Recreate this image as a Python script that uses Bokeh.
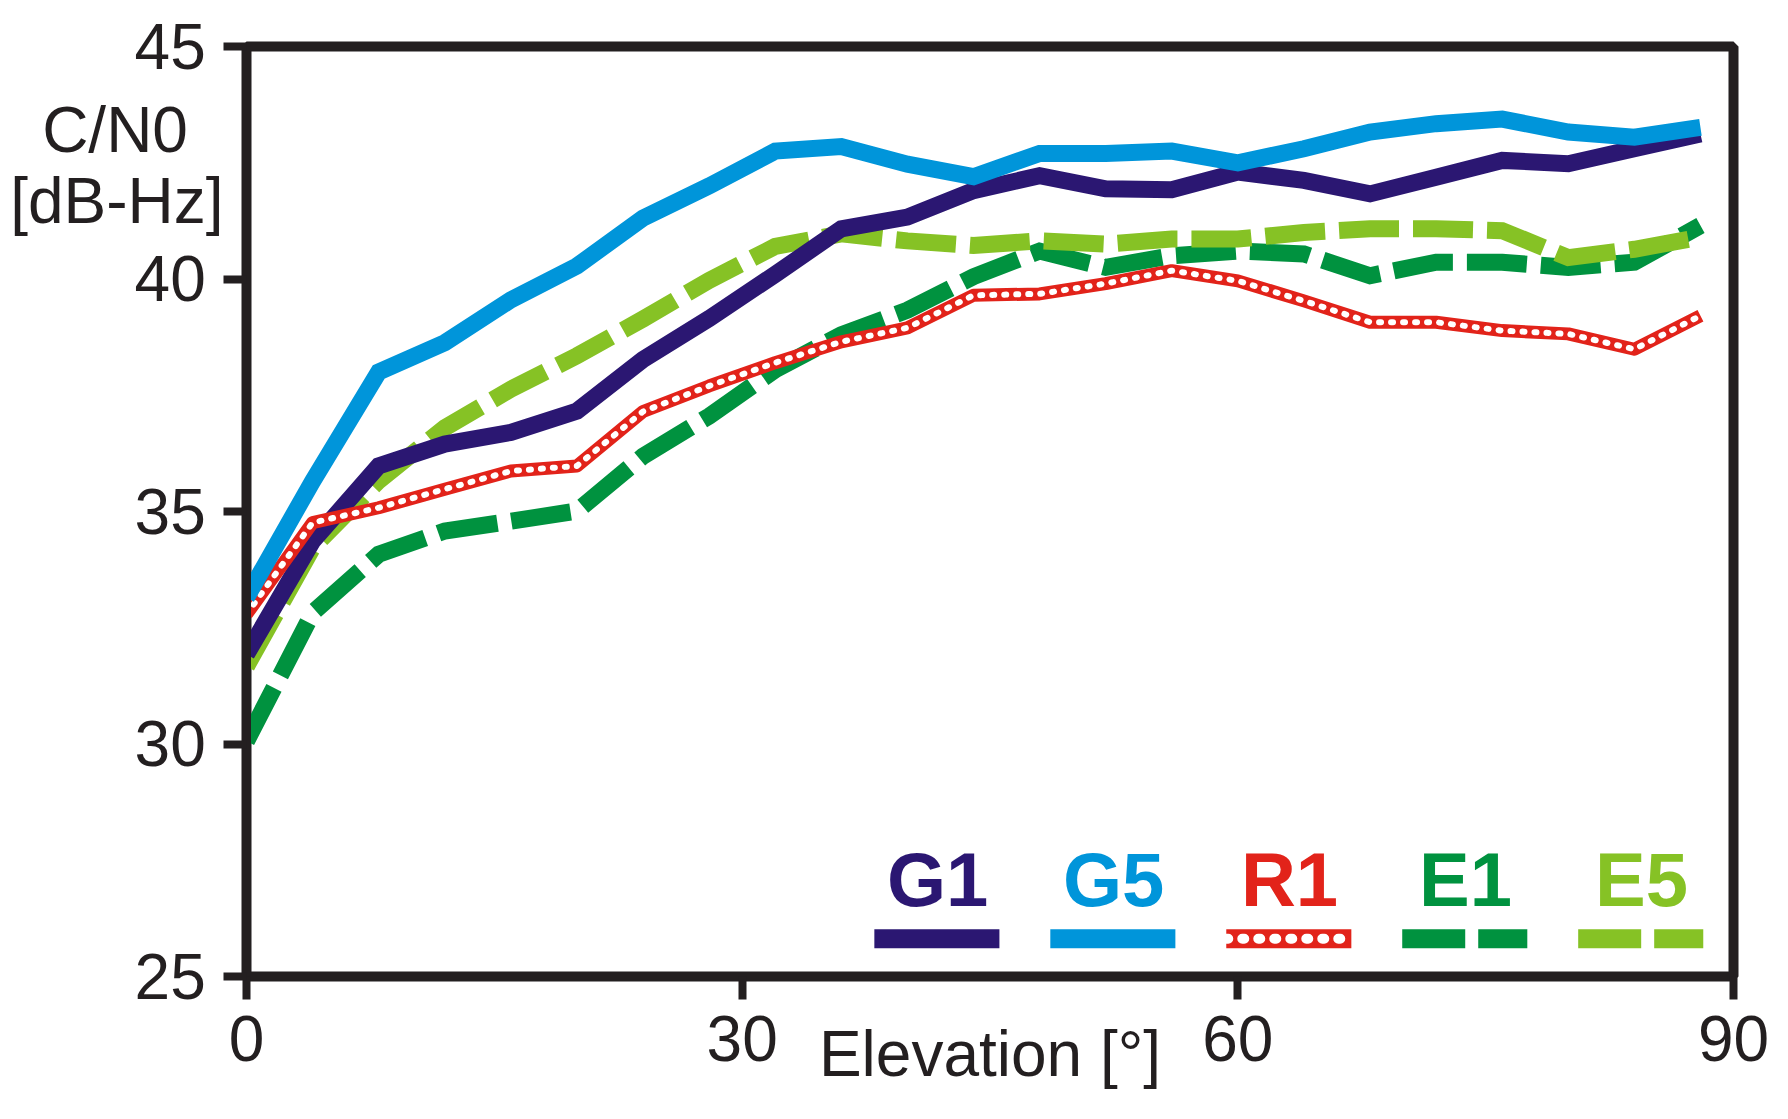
from bokeh.plotting import figure
from bokeh.models import Range1d, FixedTicker, Label, LinearAxis
from bokeh.embed import file_html
from bokeh.resources import INLINE

# ---------------- data ----------------
elevation = [0, 4, 8, 12, 16, 20, 24, 28, 32, 36, 40, 44, 48, 52, 56, 60, 64, 68, 72, 76, 80, 84, 88]

g1 = [31.93, 34.36, 35.98, 36.45, 36.70, 37.16, 38.27, 39.15, 40.10, 41.08, 41.33, 41.90,
      42.22, 41.94, 41.92, 42.30, 42.12, 41.83, 42.19, 42.55, 42.48, 42.80, 43.12]
g5 = [33.15, 35.65, 38.00, 38.63, 39.55, 40.28, 41.31, 42.00, 42.75, 42.85, 42.47, 42.20,
      42.70, 42.70, 42.75, 42.50, 42.80, 43.16, 43.34, 43.44, 43.16, 43.05, 43.26]
r1 = [32.79, 34.76, 35.08, 35.48, 35.87, 35.98, 37.15, 37.70, 38.20, 38.65, 38.95, 39.65,
      39.68, 39.90, 40.18, 39.96, 39.53, 39.07, 39.07, 38.89, 38.82, 38.49, 39.21]
e1 = [30.06, 32.82, 34.08, 34.58, 34.79, 35.01, 36.19, 37.05, 38.05, 38.80, 39.33, 40.05,
      40.60, 40.25, 40.50, 40.60, 40.54, 40.07, 40.36, 40.36, 40.25, 40.36, 41.15]
e5 = [31.67, 34.22, 35.66, 36.80, 37.63, 38.35, 39.14, 39.97, 40.70, 40.97, 40.82, 40.72,
      40.82, 40.75, 40.86, 40.86, 41.00, 41.08, 41.08, 41.04, 40.46, 40.64, 40.90]

series_names = ["G1", "G5", "R1", "E1", "E5"]
series_values = {"G1": g1, "G5": g5, "R1": r1, "E1": e1, "E5": e5}
series_colors = {"G1": "#2b1772", "G5": "#0095da", "R1": "#e2231a", "E1": "#00923f", "E5": "#86c225"}

x_ticks = [0, 30, 60, 90]
y_ticks = [25, 30, 35, 40, 45]
x_label = "Elevation [°]"
y_label_lines = ["C/N0", "[dB-Hz]"]

# ---------------- style / layout ----------------
FONT = "Liberation Sans"
INK = "#231f20"
LW = 17
DASH = "60 14"
NB = "\u00a0"
y_title_pos = [43.20, 41.67]  # vertical placement of the two title lines (layout)

p = figure(width=1772, height=1103,
           x_range=Range1d(0, 90), y_range=Range1d(25, 45),
           output_backend="svg", toolbar_location=None,
           min_border_left=246, min_border_right=39,
           min_border_top=46, min_border_bottom=127)
p.xgrid.visible = False
p.ygrid.visible = False
p.background_fill_color = "white"
p.border_fill_color = "white"
p.outline_line_color = INK
p.outline_line_width = 10
p.outline_line_alpha = 1.0

for ax in (p.xaxis[0], p.yaxis[0]):
    ax.axis_line_width = 9
    ax.axis_line_color = INK
    ax.major_tick_line_width = 8
    ax.major_tick_line_color = INK
    ax.major_tick_out = 23
    ax.major_tick_in = 0
    ax.minor_tick_line_color = None
    ax.major_label_text_font = FONT
    ax.major_label_text_font_size = "64px"
    ax.major_label_text_color = INK
p.xaxis.ticker = FixedTicker(ticks=x_ticks)
p.yaxis.ticker = FixedTicker(ticks=y_ticks)
p.xaxis.major_label_standoff = 16
p.xaxis.axis_label = x_label
p.xaxis.axis_label_text_font = FONT
p.xaxis.axis_label_text_font_size = "64px"
p.xaxis.axis_label_text_font_style = "normal"
p.xaxis.axis_label_text_color = INK
p.xaxis.axis_label_standoff = -46

# inner left axis: line + ticks only
p.yaxis.major_label_overrides = {t: "" for t in y_ticks}
p.yaxis.major_label_text_font_size = "0px"
p.yaxis.major_label_standoff = 0

# outer left axis: numeric labels and the two-line title
lab_ticks = y_ticks + y_title_pos
overrides = {t: f"{t}{NB}" for t in y_ticks}
overrides[y_title_pos[0]] = y_label_lines[0] + NB + NB
overrides[y_title_pos[1]] = y_label_lines[1]
lab_axis = LinearAxis(ticker=FixedTicker(ticks=lab_ticks),
                      major_label_overrides=overrides,
                      axis_line_color=None, major_tick_line_color=None,
                      minor_tick_line_color=None, major_tick_out=0, major_tick_in=0,
                      major_label_standoff=0,
                      major_label_text_font=FONT, major_label_text_font_size="64px",
                      major_label_text_color=INK)
p.add_layout(lab_axis, "left")

# ---------------- series (draw order: E1, E5, G1, R1, G5) ----------------
p.line(elevation, series_values["E1"], line_color=series_colors["E1"], line_width=LW,
       line_dash=DASH, line_join="miter")
p.line(elevation, series_values["E5"], line_color=series_colors["E5"], line_width=LW,
       line_dash=DASH, line_join="miter")
p.line(elevation, series_values["G1"], line_color=series_colors["G1"], line_width=LW,
       line_join="miter")
# R1: chain of small rings -> red band with white round holes
p.line(elevation, series_values["R1"], line_color=series_colors["R1"], line_width=13,
       line_join="round")
p.line(elevation, series_values["R1"], line_color="white", line_width=6,
       line_dash="2 10", line_cap="round", line_join="round")
p.line(elevation, series_values["G5"], line_color=series_colors["G5"], line_width=LW,
       line_join="miter")

# ---------------- legend (label above sample) ----------------
legend_x0 = 38.0
legend_step = 10.65
legend_len = 7.57
legend_line_y = 25.81
legend_text_y = 27.08
legend_text_dx = 3.83
for i, name in enumerate(series_names):
    x0 = legend_x0 + i * legend_step
    col = series_colors[name]
    xs = [x0, x0 + legend_len]
    ys = [legend_line_y, legend_line_y]
    if name in ("G1", "G5"):
        p.line(xs, ys, line_color=col, line_width=19)
    elif name == "R1":
        p.line(xs, ys, line_color=col, line_width=19)
        p.line(xs, ys, line_color="white", line_width=10, line_dash="2 14", line_cap="round")
    else:
        p.line(xs, ys, line_color=col, line_width=19, line_dash="63 13")
    p.add_layout(Label(x=x0 + legend_text_dx, y=legend_text_y, text=name,
                       text_align="center", text_baseline="middle",
                       text_font=FONT, text_font_style="bold",
                       text_font_size="76px", text_color=col))

open("out.html", "w").write(file_html(p, INLINE))
